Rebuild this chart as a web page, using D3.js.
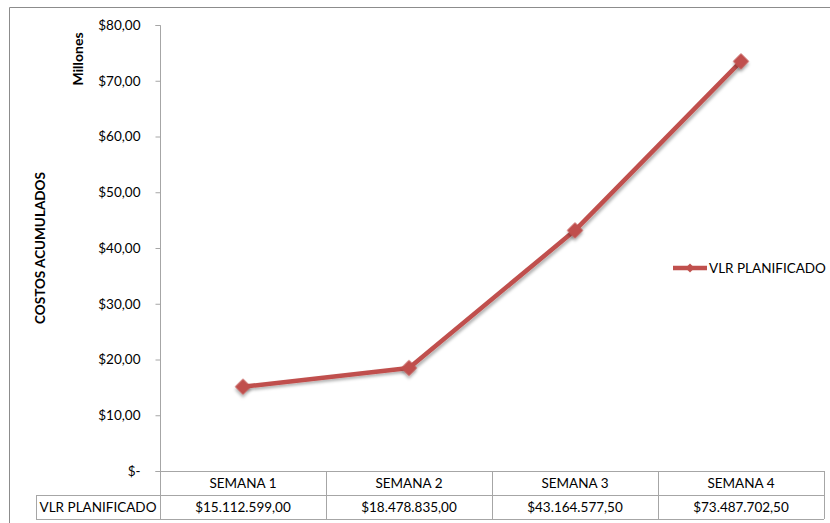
<!DOCTYPE html>
<html><head><meta charset="utf-8">
<script src="https://cdn.jsdelivr.net/npm/d3@7/dist/d3.min.js"></script>
<style>
body{margin:0;background:#fff;}
text{font-family:Lato,"Open Sans",sans-serif;fill:#000;}
</style></head>
<body><svg id="c" width="830" height="523"></svg>
<script>
const categories = ["SEMANA 1","SEMANA 2","SEMANA 3","SEMANA 4"];
const seriesName = "VLR PLANIFICADO";
const values = [15112599.00, 18478835.00, 43164577.50, 73487702.50];
const tableLabels = ["$15.112.599,00","$18.478.835,00","$43.164.577,50","$73.487.702,50"];
const yTicks = [0,10,20,30,40,50,60,70,80];
const yTickLabels = ["$-","$10,00","$20,00","$30,00","$40,00","$50,00","$60,00","$70,00","$80,00"];

const svg = d3.select("#c");
const color = "#C0504D";
const grid = "#A6A6A6";

// outer chart border
svg.append("path").attr("d","M9.5,523 V7.5 H830").attr("fill","none").attr("stroke","#8c8c8c").attr("stroke-width",1);

const x = d3.scaleBand().domain(categories).range([160,824]);
const y = d3.scaleLinear().domain([0,80]).range([471,25]);

// y axis
const yAxis = d3.axisLeft(y).tickValues(yTicks).tickSize(5).tickFormat((d,i)=>yTickLabels[i]);
const ga = svg.append("g").attr("transform","translate(160.5,0)").call(yAxis);
ga.select(".domain").attr("stroke",grid).attr("d","M-5,471.5H0V25.5H-5");
ga.selectAll(".tick line").attr("stroke",grid);
ga.selectAll(".tick text").attr("x",-20).style("font-size","13.5px").style("font-family","Lato, sans-serif").attr("fill","#000");

// axis titles
svg.append("text").attr("transform","translate(45,248) rotate(-90)").attr("text-anchor","middle")
  .style("font-size","13.5px").style("font-weight","bold").text("COSTOS ACUMULADOS");
svg.append("text").attr("transform","translate(83,59) rotate(-90)").attr("text-anchor","middle")
  .style("font-size","14px").style("font-weight","bold").text("Millones");

// data table
const rowTop = 471, rowMid = 495, rowBot = 519, tableLeft = 36;
const tg = svg.append("g").attr("stroke",grid).attr("fill","none").attr("shape-rendering","crispEdges");
tg.append("line").attr("x1",160).attr("x2",824).attr("y1",rowTop).attr("y2",rowTop);
tg.append("line").attr("x1",tableLeft).attr("x2",824).attr("y1",rowMid).attr("y2",rowMid);
tg.append("line").attr("x1",tableLeft).attr("x2",824).attr("y1",rowBot).attr("y2",rowBot);
tg.append("line").attr("x1",tableLeft).attr("x2",tableLeft).attr("y1",rowMid).attr("y2",rowBot);
tg.append("line").attr("x1",160).attr("x2",160).attr("y1",rowTop).attr("y2",rowBot);
categories.forEach(c=>{
  tg.append("line").attr("x1",x(c)+x.bandwidth()).attr("x2",x(c)+x.bandwidth()).attr("y1",rowTop).attr("y2",rowBot);
});
svg.selectAll(".hdr").data(categories).join("text").attr("class","hdr")
  .attr("x",d=>x(d)+x.bandwidth()/2).attr("y",488).attr("text-anchor","middle")
  .style("font-size","13.5px").text(d=>d);
svg.selectAll(".val").data(tableLabels).join("text").attr("class","val")
  .attr("x",(d,i)=>x(categories[i])+x.bandwidth()/2).attr("y",512).attr("text-anchor","middle")
  .style("font-size","13.5px").text(d=>d);
svg.append("text").attr("x",98).attr("y",512).attr("text-anchor","middle").style("font-size","13.5px").text(seriesName);

// shadow filter
const defs = svg.append("defs");
const f = defs.append("filter").attr("id","sh").attr("x","-50%").attr("y","-50%").attr("width","200%").attr("height","200%");
f.append("feDropShadow").attr("dx",2).attr("dy",2).attr("stdDeviation",1.5).attr("flood-color","#000").attr("flood-opacity",0.3);

const pts = values.map((v,i)=>[x(categories[i])+x.bandwidth()/2, y(v/1e6)]);
svg.append("path").attr("d",d3.line()(pts)).attr("fill","none").attr("stroke",color)
  .attr("stroke-width",4.5).attr("stroke-linejoin","round").attr("filter","url(#sh)");
svg.selectAll(".mk").data(pts).join("path").attr("class","mk")
  .attr("transform",d=>`translate(${d[0]},${d[1]}) rotate(45)`)
  .attr("d",d3.symbol().type(d3.symbolSquare).size(130)).attr("fill",color).attr("filter","url(#sh)");

// legend
svg.append("line").attr("x1",673).attr("x2",707).attr("y1",268).attr("y2",268).attr("stroke",color).attr("stroke-width",4.5);
svg.append("path").attr("transform","translate(690,268) rotate(45)").attr("d",d3.symbol().type(d3.symbolSquare).size(40)).attr("fill",color);
svg.append("text").attr("x",709).attr("y",272.5).style("font-size","13.5px").text(seriesName);
</script></body></html>
